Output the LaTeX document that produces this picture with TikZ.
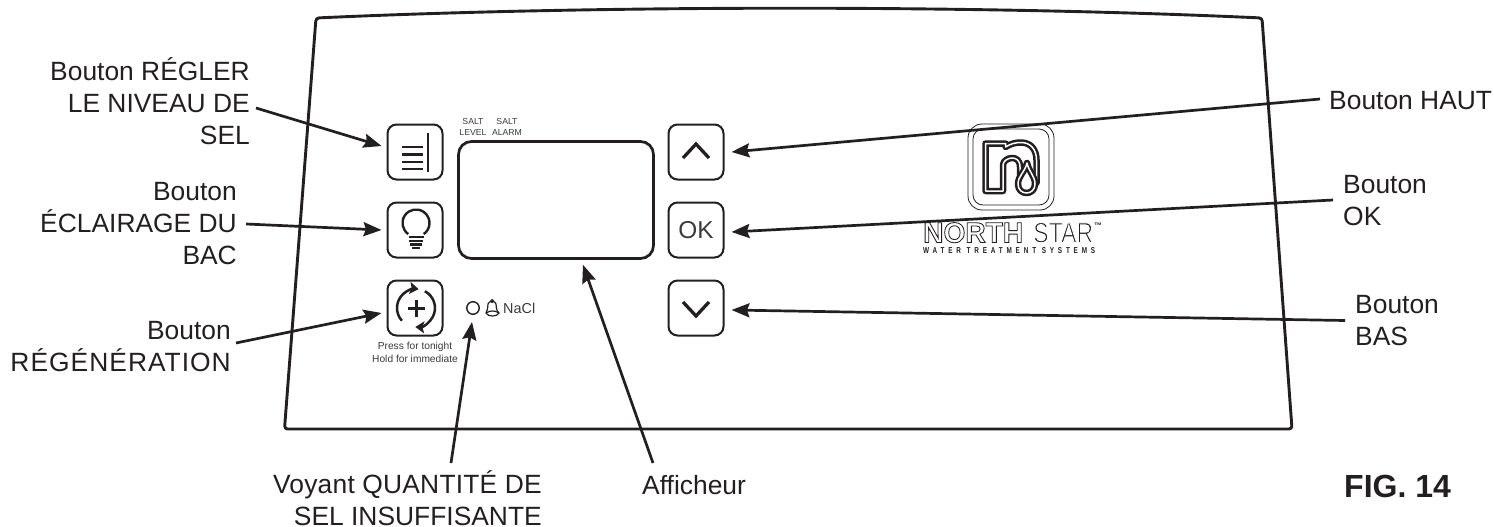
\documentclass[tikz,border=0pt]{standalone}
\usepackage{fontspec}
\setmainfont{Liberation Sans}
\usetikzlibrary{arrows.meta,calc}
\definecolor{ink}{HTML}{231F20}
\definecolor{greyink}{HTML}{3A3A3A}
\newcommand{\outlined}[1]{\special{pdf:code q 1 Tr 0.3 w}#1\special{pdf:code Q}}
\newcommand{\thinned}[1]{\special{pdf:code q 2 Tr 0.35 w 1 1 1 RG}#1\special{pdf:code Q}}
\tikzset{
  x=1pt,y=1pt,
  panel/.style={line width=2.9pt,draw=ink,rounded corners=3pt,line join=round},
  btn/.style={draw=ink,line width=2pt,rounded corners=9pt,minimum width=55pt,minimum height=55pt,inner sep=0pt,text=greyink},
  screen/.style={draw=ink,line width=2.7pt,rounded corners=13pt,minimum width=195pt,minimum height=117pt,inner sep=0pt},
  icon/.style={draw=ink,line width=2.8pt},
  thinicon/.style={draw=ink,line width=1.2pt},
  leader/.style={draw=ink,line width=2.7pt,-{Stealth[length=18pt,width=14pt,inset=2.5pt]}},
  lab/.style={inner sep=0pt,text=ink,font=\fontsize{26.4}{32}\selectfont},
  small/.style={inner sep=0pt,text=greyink,align=center},
  logoline/.style={draw=ink,line width=0.8pt},
  logodouble/.style={draw=ink,line width=2.5pt,double=white,double distance=1.5pt,line join=round}
}
\begin{document}
\begin{tikzpicture}
\useasboundingbox (0,0) rectangle (1494,-527);
% panel
\draw[panel] (316,-18) .. controls (600,-5) and (980,-5) .. (1262,-18) -- (1292,-429) -- (284.5,-429) -- cycle;
% buttons and display
\node[btn] (b1) at (415,-152) {};
\node[btn] (b2) at (415,-230) {};
\node[btn] (b3) at (415,-308) {};
\node[btn] (bup) at (696,-152) {};
\node[btn,font=\fontsize{24.4}{24}\selectfont] (bok) at (696,-230) {OK};
\node[btn] (bdown) at (696,-308) {};
\node[screen] (disp) at (556,-200) {};
% level icon
\draw[icon] (402,-147) -- (423,-147) (402,-154.5) -- (423,-154.5) (402,-162) -- (423,-162) (402,-169) -- (423,-169);
\draw[icon] (428,-133) -- (428,-172);
% bulb icon
\draw[icon,line width=2.4pt] (416,-223) ++(235:13.5) arc[start angle=235,end angle=-55,radius=13.5];
\draw[icon,line width=2.2pt] (408.5,-237) -- (423.5,-237) (409,-241) -- (423,-241) (410,-244.5) -- (422,-244.5) (412,-248) -- (420,-248);
% regeneration icon
\draw[icon,line width=2.5pt,-{Stealth[length=9pt,width=12pt,inset=2pt]}] (416,-308) ++(222:19) arc[start angle=222,end angle=82,radius=19];
\draw[icon,line width=2.5pt,-{Stealth[length=9pt,width=12pt,inset=2pt]}] (416,-308) ++(62:19) arc[start angle=62,end angle=-92,radius=19];
\draw[icon,line width=3pt] (407.5,-308) -- (424.5,-308) (416,-299.5) -- (416,-316.5);
% chevrons
\draw[icon,line width=3.3pt] (683,-158) -- (696,-144) -- (709,-158);
\draw[icon,line width=3.3pt] (683,-302) -- (696,-316) -- (709,-302);
% small texts
\node[small,font=\fontsize{8.7}{10}\selectfont,anchor=base] (tsalt) at (473,-135) {SALT\\LEVEL};
\node[small,font=\fontsize{8.7}{10}\selectfont,anchor=base] (talarm) at (507,-135) {SALT\\ALARM};
\node[small,font=\fontsize{10.2}{13}\selectfont,anchor=base] (tpress) at (415,-362) {Press for tonight\\Hold for immediate};
% LED, bell, NaCl
\node[draw=ink,line width=1.4pt,circle,minimum size=12.5pt,inner sep=0pt] (led) at (473,-308) {};
\draw[thinicon] (486,-313) .. controls (488,-310) and (487.5,-308) .. (488,-304) .. controls (488.5,-300.5) and (495.5,-300.5) .. (496,-304) .. controls (496.5,-308) and (496,-310) .. (499,-313) .. controls (497.5,-317) and (487.5,-317) .. (486,-313) -- cycle;
\draw[thinicon] (492,-301) circle[radius=1.4pt];
\draw[thinicon] (487,-312.5) .. controls (490,-310.5) and (495,-310.5) .. (498,-312.5);
\node[small,font=\fontsize{14.4}{16}\selectfont,anchor=base west] (tnacl) at (503,-313) {NaCl};
% logo
\draw[logoline,rounded corners=14pt] (968,-124) rectangle (1054,-210);
\draw[logoline,rounded corners=10pt] (973,-129) rectangle (1049,-205);
\draw[logodouble,fill=white] (985.5,-191) -- (985.5,-143.5) -- (1005.5,-143.5) -- (1005.5,-147) .. controls (1011,-143.5) and (1016,-142.5) .. (1021,-142.5) .. controls (1031,-142.5) and (1036.5,-150) .. (1036.5,-160) -- (1036.5,-183) -- (1020,-183) -- (1020,-167) .. controls (1020,-160) and (1016,-158) .. (1012,-158) .. controls (1008,-158) and (1003,-161) .. (1003,-165) -- (1003,-191) -- cycle;
\draw[logodouble,fill=white] (1027,-163) .. controls (1029,-172) and (1035,-176) .. (1035,-184) .. controls (1035,-196) and (1018,-196) .. (1018,-184) .. controls (1018,-176) and (1025,-172) .. (1027,-163) -- cycle;
\node[inner sep=0pt,anchor=south west,text=ink] (lnorth) at (923,-243) {\resizebox{100pt}{20pt}{\bfseries\outlined{NORTH}}};
\node[inner sep=0pt,anchor=south west,text=ink] (lstar) at (1033,-243) {\resizebox{60pt}{20pt}{\thinned{STAR}}};
\node[inner sep=0pt,anchor=west,text=ink,font=\fontsize{8}{8}\selectfont\bfseries] (ltm) at (1094,-226) {™};
\node[inner sep=0pt,anchor=south west,text=ink] (lwater) at (923,-253.5) {\resizebox{172pt}{6pt}{\bfseries\addfontfeatures{LetterSpace=60}WATER TREATMENT SYSTEMS}};
% labels
\node[lab,align=right,anchor=base east] (lreg) at (250,-144) {Bouton RÉGLER\\LE NIVEAU DE\\SEL};
\node[lab,align=right,anchor=base east] (lecl) at (237,-264) {Bouton\\ÉCLAIRAGE DU\\BAC};
\node[lab,align=right,anchor=base east] (lrgn) at (231,-371) {Bouton\\\addfontfeatures{LetterSpace=3.8}RÉGÉNÉRATION};
\node[lab,align=right,anchor=base east] (lqty) at (542,-525) {\addfontfeatures{LetterSpace=0.8}Voyant QUANTITÉ DE\\SEL INSUFFISANTE};
\node[lab,anchor=base west] (laff) at (642,-494) {Afficheur};
\node[lab,anchor=base west] (lhaut) at (1329,-109) {Bouton HAUT};
\node[lab,align=left,anchor=base west] (lok) at (1343,-225) {Bouton\\OK};
\node[lab,align=left,anchor=base west] (lbas) at (1355,-345) {Bouton\\BAS};
\node[inner sep=0pt,anchor=base west,text=ink,font=\fontsize{32}{32}\selectfont\bfseries] (lfig) at (1344,-497) {FIG. 14};
% free ends of connectors
\coordinate (freg) at (256,-108);
\coordinate (fecl) at (246,-224);
\coordinate (frgn) at (236,-343);
\coordinate (fqty) at (451,-463);
\coordinate (faff) at (653,-463);
\coordinate (fhaut) at (1320,-99);
\coordinate (fok) at (1333,-200);
\coordinate (fbas) at (1345,-320.5);
% connectors
\draw[leader] (freg) -- ([xshift=-5pt,yshift=6pt]b1.west);
\draw[leader] (fecl) -- ([xshift=-5pt]b2.west);
\draw[leader] (frgn) -- ([xshift=-5pt,yshift=-5pt]b3.west);
\draw[leader] (fqty) -- ([xshift=-1pt,yshift=-7pt]led.south);
\draw[leader] (faff) -- ([xshift=27pt,yshift=-5pt]disp.south);
\draw[leader] (fhaut) -- ([xshift=7pt]bup.east);
\draw[leader] (fok) -- ([xshift=7pt,yshift=-2pt]bok.east);
\draw[leader] (fbas) -- ([xshift=7pt,yshift=-2pt]bdown.east);
\end{tikzpicture}
\end{document}
